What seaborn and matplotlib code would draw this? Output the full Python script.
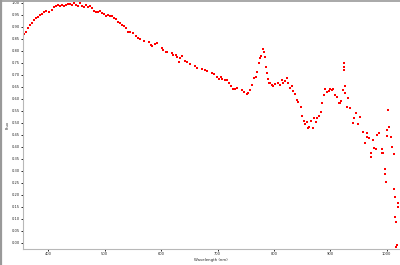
import numpy as np
import pandas as pd
import matplotlib
matplotlib.use("Agg")
import matplotlib.pyplot as plt
from matplotlib.lines import Line2D
import seaborn as sns

wavelength = [
    356.9, 360.5, 364.0, 367.6, 371.1, 374.7, 378.2, 381.7, 385.3, 388.8, 392.4, 395.9, 401.2, 406.6,
    410.1, 413.7, 417.2, 420.7, 424.3, 427.8, 431.4, 434.9, 438.5, 442.0, 445.6, 449.1, 452.6, 456.2,
    459.8, 463.3, 466.8, 470.4, 473.9, 477.5, 481.0, 484.6, 488.1, 491.7, 495.2, 498.8, 502.3, 505.8,
    509.4, 512.9, 516.5, 520.0, 523.6, 527.1, 530.7, 534.2, 537.8, 541.3,
    544.9, 550.2, 555.5, 559.0, 562.6, 569.7, 578.5, 582.1, 583.9, 589.2, 592.7, 601.6, 603.4, 608.7,
    610.5, 619.4, 621.1, 626.4, 628.2, 631.8, 633.5, 637.1, 642.4, 645.9, 651.2, 660.1, 663.6, 672.5,
    677.8, 681.3, 690.2, 693.7, 699.1, 702.6, 706.1, 707.9, 713.2, 716.8, 720.3, 723.9, 727.4, 731.0,
    734.5, 743.4, 746.9, 752.2, 754.0, 757.6, 761.1, 764.6, 768.2, 770.0, 773.5, 775.3, 777.1, 780.6,
    782.4, 784.2, 785.9, 787.7, 789.5, 791.3,
    793.0, 796.6, 798.4, 801.9, 807.2, 810.8, 814.3, 816.1, 819.6, 823.2, 825.0, 828.5, 832.1, 833.8,
    837.4, 840.9, 842.7, 848.0, 849.8, 853.3, 855.1, 858.6, 860.4, 862.2, 865.7, 869.3, 871.0, 874.6,
    876.4, 879.9, 883.5, 885.3, 888.8, 890.6, 894.1, 897.7, 899.4, 903.0, 904.8, 908.3, 911.9, 915.4,
    917.2, 919.0, 922.5, 924.3, 924.3, 924.3, 926.1, 926.1, 929.6, 931.4, 934.9, 940.2, 942.0, 945.6,
    949.1, 952.7, 958.0, 961.5, 965.1, 965.1, 968.6, 972.2, 972.2, 975.7, 977.5, 981.0, 982.8, 986.4,
    991.7, 991.7, 993.5, 997.0, 997.0, 998.8, 1000.6, 1000.6, 1002.3, 1004.1, 1007.7, 1009.4, 1013.0,
    1013.0, 1014.8, 1014.8, 1016.5, 1016.5, 1018.3, 1020.1, 1020.1,
]
flux = [
    0.868, 0.879, 0.893, 0.907, 0.914, 0.928, 0.935, 0.942, 0.949, 0.953, 0.963, 0.967, 0.960, 0.970,
    0.981, 0.986, 0.990, 0.986, 0.992, 0.986, 0.990, 0.993, 0.996, 0.992, 0.999, 0.992, 0.986, 0.998,
    0.986, 0.981, 0.990, 0.983, 0.986, 0.977, 0.967, 0.963, 0.963, 0.967, 0.958, 0.953, 0.945, 0.949,
    0.945, 0.945, 0.935, 0.931, 0.921, 0.917, 0.907, 0.903, 0.893, 0.879,
    0.879, 0.875, 0.861, 0.852, 0.850, 0.839, 0.838, 0.824, 0.820, 0.828, 0.831, 0.813, 0.803, 0.796,
    0.796, 0.789, 0.781, 0.782, 0.773, 0.753, 0.768, 0.778, 0.757, 0.753, 0.743, 0.738, 0.727, 0.723,
    0.720, 0.715, 0.706, 0.703, 0.692, 0.681, 0.689, 0.681, 0.678, 0.678, 0.667, 0.653, 0.639, 0.639,
    0.646, 0.636, 0.629, 0.620, 0.622, 0.636, 0.657, 0.685, 0.692, 0.713, 0.748, 0.768, 0.778, 0.806,
    0.796, 0.775, 0.733, 0.708, 0.681, 0.667,
    0.664, 0.657, 0.653, 0.661, 0.664, 0.657, 0.678, 0.667, 0.675, 0.685, 0.667, 0.643, 0.653, 0.633,
    0.620, 0.595, 0.588, 0.567, 0.528, 0.508, 0.495, 0.504, 0.477, 0.483, 0.508, 0.477, 0.518, 0.504,
    0.518, 0.528, 0.546, 0.581, 0.615, 0.639, 0.629, 0.633, 0.639, 0.636, 0.639, 0.615, 0.608, 0.583,
    0.583, 0.592, 0.636, 0.748, 0.734, 0.720, 0.652, 0.625, 0.567, 0.602, 0.560, 0.497, 0.518, 0.539,
    0.495, 0.522, 0.462, 0.414, 0.456, 0.440, 0.435, 0.372, 0.358, 0.428, 0.393, 0.389, 0.449, 0.456,
    0.389, 0.375, 0.373, 0.307, 0.285, 0.254, 0.470, 0.445, 0.553, 0.483, 0.442, 0.400, 0.370, 0.225,
    0.190, 0.108, 0.085, -0.017, -0.010, 0.165, 0.150,
]

df = pd.DataFrame({"wavelength": wavelength, "flux": flux})

sns.set_theme(style="white")
plt.rcParams['font.family'] = ['DejaVu Sans']

fig = plt.figure(figsize=(4.0, 2.65), dpi=100)
ax = fig.add_axes([23 / 400, 16 / 265, 376 / 400, 248 / 265])

sns.scatterplot(data=df, x="wavelength", y="flux", ax=ax, color="#ff0000",
                marker="s", s=0.8, linewidth=0, legend=False)

ax.set_xlim(355.1, 1021.8)
ax.set_ylim(-0.026, 1.007)
ax.set_xticks(np.arange(400, 1001, 100))
ax.set_yticks(np.linspace(0, 1, 21))
ax.set_yticklabels([f"{v:.2f}" for v in np.linspace(0, 1, 21)])
ax.tick_params(axis="both", labelsize=2.6, length=1.5, width=0.6, direction="out",
               color="black", pad=1, left=True, bottom=True)
ax.set_xlabel("Wavelength (nm)", fontsize=2.8, labelpad=1)
ax.set_ylabel("Flux", fontsize=2.8, labelpad=1)
for side in ["top", "right"]:
    ax.spines[side].set_visible(False)
for side in ["left", "bottom"]:
    ax.spines[side].set_color("#b8b8b8")
    ax.spines[side].set_linewidth(0.8)

fig.add_artist(Line2D([0, 1], [0.998, 0.998], transform=fig.transFigure, color="#999999", lw=1.2))
fig.add_artist(Line2D([0.003, 0.003], [0, 1], transform=fig.transFigure, color="#999999", lw=1.6))

fig.savefig("out.png", dpi=100)
